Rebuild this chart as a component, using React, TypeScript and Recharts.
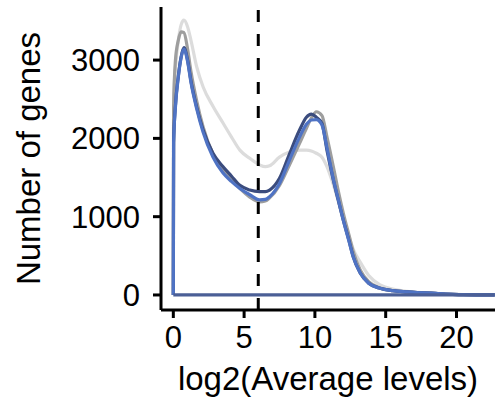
import { LineChart, Line, XAxis, YAxis, ReferenceLine } from 'recharts';

// log2 average levels (x) and gene counts per sample
const levels = [
  0, 0.02, 0.15, 0.35, 0.55, 0.75, 1.0, 1.25, 1.65, 2.1, 2.8, 3.5, 4.1, 4.7,
  5.4, 6.1, 6.5, 6.8, 7.5, 8.2, 8.9, 9.4, 9.75, 10.1, 10.5, 10.85, 11.3,
  11.65, 12.0, 12.4, 12.7, 13.2, 13.8, 14.6, 15.5, 16.5, 18.5, 20.5, 22.7,
];
const sampleLight = [
  0, 2500, 2900, 3250, 3450, 3510, 3430, 3250, 2915, 2660, 2410, 2200, 2020,
  1850, 1745, 1660, 1638, 1650, 1760, 1825, 1850, 1850, 1840, 1810, 1760,
  1640, 1410, 1200, 980, 760, 590, 420, 250, 130, 75, 45, 20, 5, 0,
];
const sampleGray = [
  0, 2400, 3000, 3250, 3360, 3350, 3150, 2850, 2480, 2150, 1800, 1600, 1480,
  1360, 1250, 1190, 1200, 1240, 1400, 1660, 1930, 2130, 2260, 2340, 2290,
  2020, 1640, 1330, 1050, 770, 560, 320, 170, 90, 55, 40, 20, 5, 0,
];
const sampleNavy = [
  0, 1940, 2420, 2790, 3040, 3160, 3010, 2730, 2400, 2110, 1810, 1640, 1520,
  1400, 1340, 1320, 1320, 1340, 1490, 1800, 2100, 2270, 2310, 2270, 2190,
  1850, 1470, 1210, 960, 700, 490, 280, 150, 85, 55, 40, 20, 5, 0,
];
const sampleBlue = [
  0, 1940, 2400, 2780, 3030, 3140, 2990, 2710, 2380, 2080, 1760, 1560, 1450,
  1360, 1280, 1215, 1220, 1255, 1425, 1720, 2010, 2180, 2235, 2240, 2170,
  1880, 1480, 1220, 960, 690, 490, 280, 150, 85, 55, 40, 20, 5, 0,
];
const baseline = levels.map(() => 0);

const cutoff = 6;
const xTicks = [0, 5, 10, 15, 20];
const yTicks = [0, 1000, 2000, 3000];

const data = levels.map((x, i) => ({
  x,
  light: sampleLight[i],
  gray: sampleGray[i],
  navy: sampleNavy[i],
  blue: sampleBlue[i],
  base: baseline[i],
}));

const FONT = '"Liberation Sans", Arial, Helvetica, sans-serif';
const LINE_W = 3.2;

export default function App() {
  return (
    <div style={{ position: 'absolute', left: 0, top: 0, fontFamily: FONT }}>
      <LineChart
        width={495}
        height={402}
        data={data}
        margin={{ top: 7, right: 0, bottom: 0, left: 0 }}
      >
        <XAxis
          dataKey="x"
          type="number"
          domain={[-0.87, 22.72]}
          ticks={xTicks}
          allowDataOverflow
          height={92}
          tickSize={8}
          tickMargin={8}
          axisLine={{ stroke: '#000', strokeWidth: 3 }}
          tickLine={{ stroke: '#000', strokeWidth: 3 }}
          tick={{ fill: '#000', fontSize: 31, fontFamily: FONT }}
          label={{
            value: 'log2(Average levels)',
            position: 'insideBottom',
            offset: 12,
            style: { fontSize: 33, fill: '#000', fontFamily: FONT },
          }}
        />
        <YAxis
          type="number"
          domain={[-192, 3678]}
          ticks={yTicks}
          allowDataOverflow
          width={161}
          tickSize={8}
          tickMargin={13}
          axisLine={{ stroke: '#000', strokeWidth: 3 }}
          tickLine={{ stroke: '#000', strokeWidth: 3 }}
          tick={{ fill: '#000', fontSize: 31, fontFamily: FONT }}
          label={{
            value: 'Number of genes',
            angle: -90,
            position: 'insideLeft',
            offset: 28,
            style: { textAnchor: 'middle', fontSize: 33, fill: '#000', fontFamily: FONT },
          }}
        />
        <Line type="monotone" dataKey="light" stroke="#dcdcdc" strokeWidth={LINE_W} dot={false} isAnimationActive={false} />
        <Line type="monotone" dataKey="gray" stroke="#9e9e9e" strokeWidth={LINE_W} dot={false} isAnimationActive={false} />
        <Line type="monotone" dataKey="navy" stroke="#3b4c7e" strokeWidth={LINE_W} dot={false} isAnimationActive={false} />
        <Line type="monotone" dataKey="blue" stroke="#4f73c4" strokeWidth={LINE_W} dot={false} isAnimationActive={false} />
        <Line type="linear" dataKey="base" stroke="#4b5f96" strokeWidth={LINE_W} dot={false} isAnimationActive={false} />
        <ReferenceLine x={cutoff} stroke="#000" strokeWidth={3} strokeDasharray="12 12" />
      </LineChart>
    </div>
  );
}
